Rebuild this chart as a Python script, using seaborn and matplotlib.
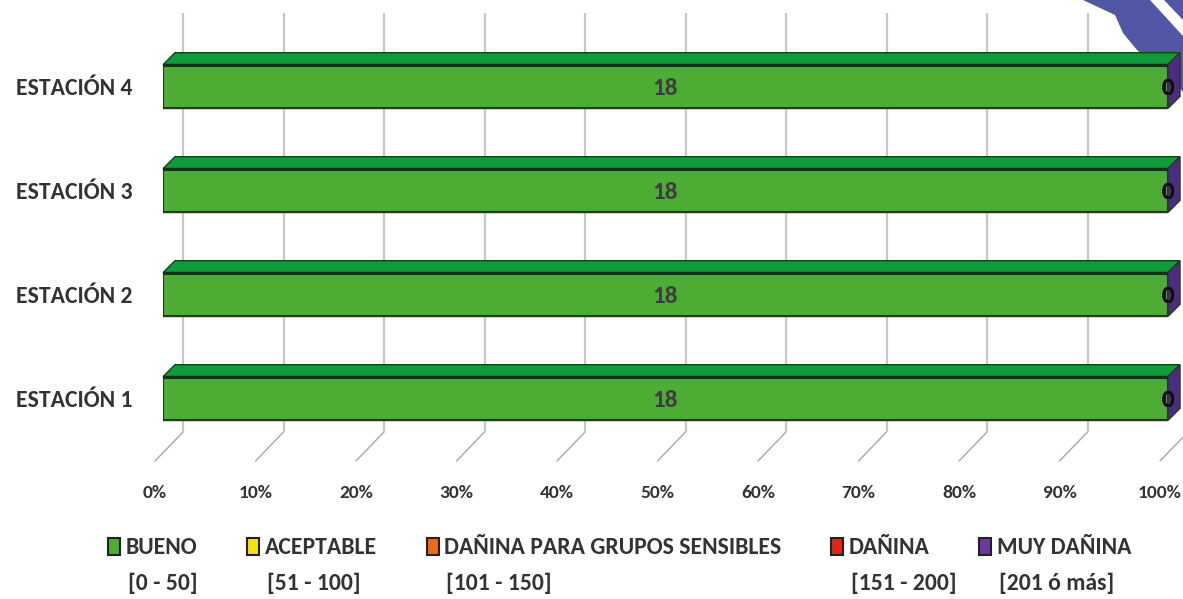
import numpy as np
import pandas as pd
import matplotlib
matplotlib.use('Agg')
import matplotlib.pyplot as plt
from matplotlib.patches import Polygon, Rectangle
from matplotlib.transforms import offset_copy
import seaborn as sns

# data (days per air quality band, by station)
stations = ['ESTACIÓN 4', 'ESTACIÓN 3', 'ESTACIÓN 2', 'ESTACIÓN 1']
categories = ['BUENO', 'ACEPTABLE', 'DAÑINA PARA GRUPOS SENSIBLES', 'DAÑINA', 'MUY DAÑINA']
ranges = ['[0 - 50]', '[51 - 100]', '[101 - 150]', '[151 - 200]', '[201 ó más]']
bueno = [18, 18, 18, 18]
aceptable = [0, 0, 0, 0]
sensibles = [0, 0, 0, 0]
danina = [0, 0, 0, 0]
muy_danina = [0, 0, 0, 0]
pct_ticks = np.round(np.arange(0, 1.01, 0.1), 2)
pct_labels = [f'{int(t * 100)}%' for t in pct_ticks]

front_colors = ['#4dac34', '#f2e20f', '#ee6a1f', '#e2231d', '#6a3a9f']
top_colors = ['#0f9a3b', '#d8c80a', '#c85515', '#b81a16', '#4e2a85']
edge_col = '#1e3d18'

W, H = 1183, 599

df = pd.DataFrame({c: v for c, v in zip(categories, [bueno, aceptable, sensibles, danina, muy_danina])},
                  index=stations)
share = df.div(df.sum(axis=1), axis=0)
cum = share.cumsum(axis=1)

sns.set_theme(style='white')
plt.rcParams['font.family'] = ['Carlito', 'Liberation Sans', 'DejaVu Sans']

fig = plt.figure(figsize=(W / 100, H / 100), dpi=100)
ax = fig.add_axes([163 / W, (H - 432) / H, (1168 - 163) / W, (432 - 13) / H])
ax.patch.set_visible(False)

# stacked bars: draw cumulative widths back to front
bar_h = 0.42
for k in range(len(categories) - 1, -1, -1):
    sns.barplot(x=cum[categories[k]].values, y=stations, order=stations, orient='h',
                color=front_colors[k], saturation=1, width=bar_h,
                edgecolor=edge_col, linewidth=1.5, ax=ax, zorder=3)

ax.set_xlim(0, 1)
ax.set_ylim(3.322, -0.707)
ax.set_xlabel('')
ax.set_ylabel('')
for s in ax.spines.values():
    s.set_visible(False)
ax.set_xticks([])
ax.tick_params(axis='y', length=0, pad=22, labelsize=17, labelcolor='#333333')
for lbl in ax.get_yticklabels():
    lbl.set_fontweight('bold')

# pixel -> data conversion for the fake 3D depth
pos = ax.get_position()
px_x = 1.0 / (pos.width * W)
px_y = (3.322 + 0.707) / (pos.height * H)
depth = 12

# back wall grid lines and floor lines
grid_tr = offset_copy(ax.get_xaxis_transform(), fig=fig, x=20, y=0, units='dots')
ax.vlines(pct_ticks, 0, 1, transform=grid_tr, colors='#c8c8c8', linewidth=1.6, zorder=0)
ybot = ax.get_ylim()[0]
for t, lab in zip(pct_ticks, pct_labels):
    ax.plot([t + 20 * px_x, t - 8 * px_x], [ybot, ybot + 29 * px_y],
            color='#a8a8a8', linewidth=1, clip_on=False, zorder=0)
    ax.text(t - 8 * px_x, ybot + 61 * px_y, lab, ha='center', va='center',
            fontsize=14, fontweight='bold', color='#333333', clip_on=False)

# top faces and right side face
for i, st in enumerate(stations):
    yt = i - bar_h / 2
    yb = i + bar_h / 2
    for k, cat in enumerate(categories):
        r = cum.loc[st, cat]
        l = r - share.loc[st, cat]
        if r - l <= 0:
            continue
        ax.add_patch(Polygon([(l, yt), (r, yt), (r + depth * px_x, yt - depth * px_y),
                              (l + depth * px_x, yt - depth * px_y)],
                             closed=True, facecolor=top_colors[k], edgecolor=edge_col,
                             linewidth=1.0, zorder=2, clip_on=False))
    end = cum.loc[st].iloc[-1]
    ax.add_patch(Polygon([(end, yt), (end + depth * px_x, yt - depth * px_y),
                          (end + depth * px_x, yb - depth * px_y), (end, yb)],
                         closed=True, facecolor=top_colors[-1], edgecolor=edge_col,
                         linewidth=1.0, zorder=2, clip_on=False))
    ax.plot([0, end], [yt, yt], color='#15301a', linewidth=2.2, zorder=4)

# value labels
for i, st in enumerate(stations):
    for k, cat in enumerate(categories):
        v = df.loc[st, cat]
        c = cum.loc[st, cat] - share.loc[st, cat] / 2
        ax.text(c, i + 0.02, str(v), ha='center', va='center', fontsize=18, fontweight='bold',
                color='#3d3d3d' if v > 0 else '#111111', zorder=6, clip_on=False)

# legend (first line) + range line below each entry
handles = [Rectangle((0, 0), 1, 1, facecolor=c, edgecolor='#222222', linewidth=1.5)
           for c in front_colors]
leg = fig.legend(handles, categories, loc='center', bbox_to_anchor=(620 / W, (H - 548) / H),
                 ncol=5, frameon=False, prop={'weight': 'bold', 'size': 17},
                 labelcolor='#333333', handlelength=0.5, handleheight=0.72,
                 handletextpad=0.25, columnspacing=2.1)
fig.canvas.draw()
for txt, rng in zip(leg.get_texts(), ranges):
    bb = txt.get_window_extent()
    fig.text(bb.x0 / W + 2 / W, ((bb.y0 + bb.y1) / 2 - 35) / H, rng, ha='left', va='center',
             fontsize=17, fontweight='bold', color='#333333')

# blue logo corner in the top right
def fpx(x, y):
    return (x / W, 1 - y / H)

logo = Polygon([fpx(1083, 0), fpx(1183, 0), fpx(1183, 92), fpx(1172, 80), fpx(1157, 67),
                fpx(1137, 50), fpx(1123, 33), fpx(1115, 15)],
               closed=True, transform=fig.transFigure, facecolor='#5256a6', edgecolor='none', zorder=-1)
stripe = Polygon([fpx(1150, 0), fpx(1164, 0), fpx(1183, 20), fpx(1183, 36)],
                 closed=True, transform=fig.transFigure, facecolor='white', edgecolor='none', zorder=-1)
fig.patches.extend([logo, stripe])

fig.savefig('out.png', dpi=100)
plt.close(fig)
